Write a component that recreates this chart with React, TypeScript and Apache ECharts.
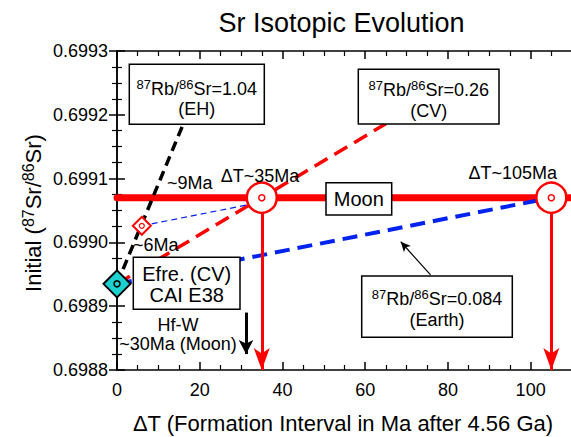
import React, { useEffect, useRef } from "react";
import * as echarts from "echarts";

// ---- data ----
const xRange = [0, 110];
const yRange = [0.6988, 0.6993];
const moonLine = [[0, 0.69907], [110, 0.69907]];
const ehLine = [[0, 0.698935], [16.1, 0.699187]];
const cvLine = [[0, 0.698935], [65, 0.699186]];
const earthLine = [[0, 0.698935], [105, 0.69907]];
const ehTieLine = [[6, 0.699026], [34, 0.699062]];
const ehPoint = [[6, 0.699026]];
const caiPoint = [[0, 0.698935]];
const moonPoints = [[35, 0.69907], [105, 0.69907]];
const moonArrows = [
  [[35, 0.69907], [35, 0.6988]],
  [[105, 0.69907], [105, 0.6988]],
];
const hfwArrow = [[31.2, 0.69889], [31.2, 0.698825]];
const earthPointer = [[75.8, 0.698949], [68.6, 0.699001]];

const FONT = "Liberation Sans, Arial, Helvetica, sans-serif";

function txt(x: number, y: number, text: string, size: number, align = "center", extra: any = {}) {
  return {
    type: "text",
    x,
    y,
    z: 110,
    style: {
      text,
      fill: "#000",
      fontFamily: FONT,
      fontSize: size,
      align,
      verticalAlign: "middle",
      ...extra,
    },
  };
}

const supRich = (main: number, sup: number) => ({
  s: { fontSize: sup, fontFamily: FONT, verticalAlign: "top", lineHeight: sup, fill: "#000" },
  m: { fontSize: main, fontFamily: FONT, lineHeight: main + 4, fill: "#000" },
});

function box(x: number, y: number, w: number, h: number) {
  return {
    type: "rect",
    z: 100,
    shape: { x, y, width: w, height: h },
    style: { fill: "#fff", stroke: "#000", lineWidth: 1.5 },
  };
}

function ratioText(cx: number, cy: number, value: string) {
  return txt(cx, cy, `{s|87}{m|Rb/}{s|86}{m|Sr=${value}}`, 18, "center", { rich: supRich(18, 13) });
}

export default function App() {
  const ref = useRef<HTMLDivElement>(null);
  useEffect(() => {
    const chart = echarts.init(ref.current!, undefined, { renderer: "svg" });
    const axisCommon = {
      type: "value",
      axisLine: { show: true, lineStyle: { color: "#000", width: 1.5 } },
      axisTick: { show: true, inside: true, length: 8, lineStyle: { color: "#000", width: 1.5 } },
      minorTick: { show: true, splitNumber: 4, length: 5, lineStyle: { color: "#000", width: 1.2 } },
      splitLine: { show: false },
      minorSplitLine: { show: false },
    };
    const lineSeries = (data: number[][], color: string, width: number, dash: any, cap = "butt") => ({
      type: "line",
      data,
      symbol: "none",
      z: 2,
      clip: false,
      lineStyle: { color, width, type: dash, cap },
      silent: true,
    });
    const arrowSeries = (pairs: number[][][], color: string, width: number, size: number[]) => ({
      type: "line",
      data: [],
      z: 3,
      markLine: {
        silent: true,
        symbol: ["none", "arrow"],
        symbolSize: size,
        label: { show: false },
        lineStyle: { color, width, type: "solid" },
        emphasis: { disabled: true },
        data: pairs.map((p) => [{ coord: p[0] }, { coord: p[1] }]),
      },
    });
    const scatter = (data: number[][], symbol: string, size: number, fill: string, border: string, bw: number, z: number) => ({
      type: "scatter",
      data,
      symbol,
      symbolSize: size,
      z,
      silent: true,
      clip: false,
      itemStyle: { color: fill, borderColor: border, borderWidth: bw, opacity: 1 },
    });

    chart.setOption({
      animation: false,
      backgroundColor: "#fff",
      textStyle: { fontFamily: FONT },
      grid: { left: 117, top: 51, width: 455, height: 319, containLabel: false, outerBoundsMode: "none" },
      xAxis: [
        {
          ...axisCommon,
          position: "bottom",
          min: xRange[0],
          max: xRange[1],
          interval: 20,
          axisLabel: { color: "#000", fontSize: 18, fontFamily: FONT, margin: 11, showMaxLabel: false },
        },
        {
          ...axisCommon,
          position: "top",
          min: xRange[0],
          max: xRange[1],
          interval: 20,
          axisLabel: { show: false },
        },
      ],
      yAxis: [
        {
          ...axisCommon,
          position: "left",
          min: yRange[0],
          max: yRange[1],
          interval: 0.0001,
          axisLabel: {
            color: "#000",
            fontSize: 18,
            fontFamily: FONT,
            margin: 9,
            formatter: (v: number) => v.toFixed(4),
          },
        },
        {
          ...axisCommon,
          position: "right",
          min: yRange[0],
          max: yRange[1],
          interval: 0.0001,
          axisLabel: { show: false },
        },
      ],
      series: [
        lineSeries(moonLine, "#ff0000", 7, "solid", "round"),
        lineSeries(earthLine, "#0022ee", 4, [15, 8]),
        lineSeries(cvLine, "#ff0000", 3.5, [15, 8]),
        lineSeries(ehTieLine, "#0022ee", 1.2, [6, 4]),
        lineSeries(ehLine, "#000000", 3.5, [10, 6]),
        arrowSeries(moonArrows, "#ff0000", 3, [12, 22]),
        arrowSeries([hfwArrow], "#000000", 3, [11, 14]),
        arrowSeries([earthPointer], "#000000", 1.2, [7, 10]),
        scatter(moonPoints, "circle", 30, "#ffffff", "#ff0000", 2.5, 5),
        scatter(moonPoints, "circle", 6, "#ffffff", "#ff0000", 1.5, 6),
        scatter(ehPoint, "diamond", 18, "#ffffff", "#ff0000", 2, 5),
        scatter(ehPoint, "circle", 5, "#ffffff", "#ff0000", 1.2, 6),
        scatter(caiPoint, "diamond", 27, "#1fd0d0", "#000000", 2, 5),
        scatter(caiPoint, "circle", 6, "#1fd0d0", "#000000", 1.5, 6),
      ],
      graphic: [
        txt(341.5, 23, "Sr Isotopic Evolution", 27),
        txt(343, 423, "ΔT (Formation Interval in Ma after 4.56 Ga)", 22),
        {
          type: "text",
          x: 33,
          y: 213,
          rotation: Math.PI / 2,
          z: 110,
          style: {
            text: "{m|Initial (}{s|87}{m|Sr/}{s|86}{m|Sr)}",
            align: "center",
            verticalAlign: "middle",
            fill: "#000",
            rich: supRich(22, 16),
          },
        },
        box(129.3, 64.3, 135, 60),
        ratioText(196.8, 89, "1.04"),
        txt(196.8, 109, "(EH)", 18),
        box(358.3, 69.3, 140.7, 54.7),
        ratioText(428.7, 90, "0.26"),
        txt(428.7, 111, "(CV)", 18),
        box(361.7, 276, 150.6, 61.3),
        ratioText(437, 299, "0.084"),
        txt(437, 320, "(Earth)", 18),
        box(326, 182.7, 65.7, 32.3),
        txt(358.8, 199, "Moon", 20),
        box(133.3, 257.3, 106.7, 52),
        txt(186.7, 273.5, "Efre. (CV)", 20),
        txt(186.7, 295, "CAI E38", 20),
        txt(167, 183, "~9Ma", 18, "left"),
        txt(260, 176, "ΔT~35Ma", 18),
        txt(557, 173, "ΔT~105Ma", 18, "right"),
        txt(133, 245, "~6Ma", 18, "left"),
        txt(178, 325, "Hf-W", 18),
        txt(178, 344, "~30Ma (Moon)", 18),
      ],
    });
    return () => chart.dispose();
  }, []);
  return (
    <div
      ref={ref}
      style={{ position: "fixed", left: 0, top: 0, width: 571, height: 437, background: "#fff" }}
    />
  );
}
